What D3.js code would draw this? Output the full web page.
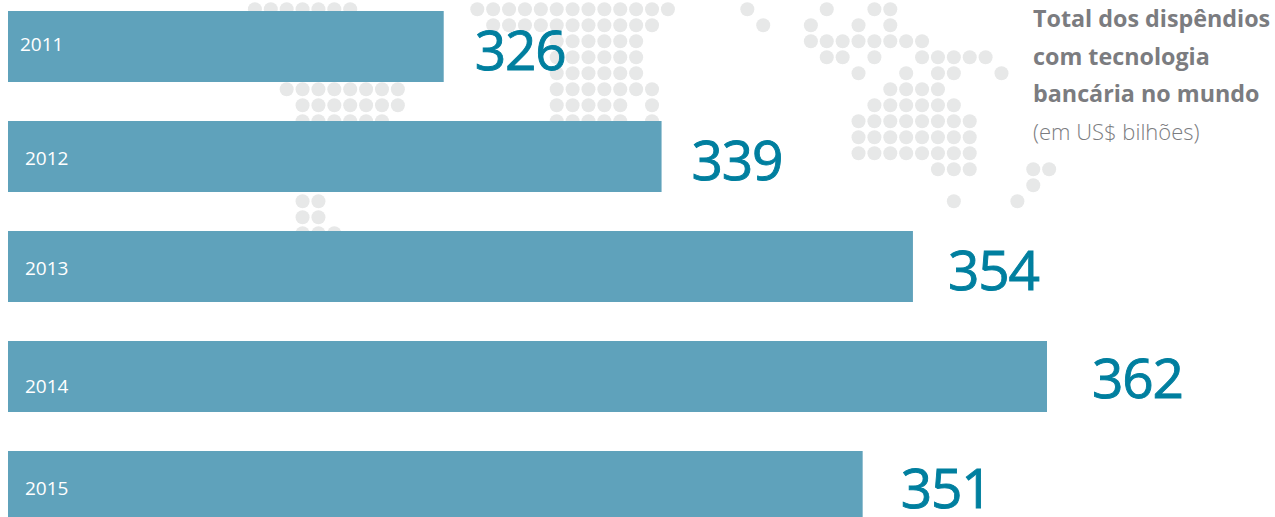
<!DOCTYPE html>
<html>
<head>
<meta charset="utf-8">
<script src="https://cdn.jsdelivr.net/npm/d3@7"></script>
<style>
  html, body { margin: 0; padding: 0; background: #fff; overflow: hidden; }
  svg { display: block; }
</style>
</head>
<body>
<script>
// Chart data
const years = ["2011", "2012", "2013", "2014", "2015"];
const spending = [326, 339, 354, 362, 351];
const titleLines = ["Total dos dispêndios", "com tecnologia", "bancária no mundo"];
const subtitle = "(em US$ bilhões)";

// Background world map, dot columns per dot row
const mapCols = [
  [0,1,2,3,4,5,6, 14,15,16,17,18,19,20,21,22,23,24,25,26, 31, 36, 39,40],
  [15,16,17,18,19,20,21,22,23,24,25, 32, 35, 38, 40],
  [19,20,21,22,23,24, 35,36,37,38,39,40,41,42],
  [19,20,21,22,23,24, 36,37, 39, 42,43,44,45,46],
  [19,20,21,22,23,24, 38, 41, 43,44, 47],
  [2,3,4,5,6,7,8,9, 19,20,21,22,23,24,25, 40,41,42,43],
  [3,4,5,6,7,8,9, 19,20,21,22,23, 25, 39,40,41,42,43,44],
  [3,4,5,6,7,8, 19,20,21,22,23, 25, 38,39,40,41,42,43,44,45],
  [38,39,40,41,42,43,44,45],
  [38,39,40,41,42,43,44,45],
  [43,44,45, 49,50],
  [49],
  [3,4, 44, 48],
  [3,4],
  [3,4,5]
];

// Set the dimensions
const width = 1275, height = 517;

// Label nudges, the source has them hand placed
const yearLabelX = [20, 25, 25, 25, 25];
const yearLabelY = [51, 165, 275, 393, 495];
const valueLabelDx = [31, 30, 35, 45, 38];
const valueLabelY = [70, 180, 290, 398, 508];

const svg = d3.select("body").append("svg")
    .attr("width", width)
    .attr("height", height);

// Set the ranges
const x = d3.scaleLinear().domain([300, 362]).range([8, 1047]);
const y = d3.scaleBand().domain(years).range([11, 522]).paddingInner(39 / 110);

const dotX = d3.scaleLinear().domain([0, 1]).range([254.9, 270.785]);
const dotY = d3.scaleLinear().domain([0, 1]).range([9.3, 25.3]);

// Map dots
const map = svg.append("g").attr("fill", "#e7e8e8");

mapCols.forEach((cols, row) => {
  map.selectAll(null).data(cols)
    .enter().append("circle")
    .attr("cx", d => dotX(d))
    .attr("cy", dotY(row))
    .attr("r", 7);
});

// Bars
svg.selectAll(".bar").data(spending)
  .enter().append("rect")
    .attr("class", "bar")
    .attr("x", x(300))
    .attr("y", (d, i) => y(years[i]))
    .attr("width", d => x(d) - x(300))
    .attr("height", y.bandwidth())
    .attr("fill", "#5fa2bb");

// Year labels
svg.selectAll(".year").data(years)
  .enter().append("text")
    .attr("class", "year")
    .attr("x", (d, i) => yearLabelX[i])
    .attr("y", (d, i) => yearLabelY[i])
    .attr("fill", "#fff")
    .style("font", "19px 'Open Sans'")
    .text(d => d);

// Value labels
svg.selectAll(".value").data(spending)
  .enter().append("text")
    .attr("class", "value")
    .attr("x", (d, i) => x(d) + valueLabelDx[i])
    .attr("y", (d, i) => valueLabelY[i])
    .attr("fill", "#007f9f")
    .attr("stroke", "#007f9f")
    .attr("stroke-width", 0.9)
    .style("font", "55px 'Open Sans'")
    .style("letter-spacing", "-1.2px")
    .text(d => d);

// Title
const title = svg.append("g").attr("fill", "#7b7c80");

title.selectAll("text").data(titleLines)
  .enter().append("text")
    .attr("x", 1033)
    .attr("y", (d, i) => 27 + i * 37.5)
    .style("font", "bold 23.3px 'Open Sans'")
    .text(d => d);

title.append("text")
    .attr("x", 1033)
    .attr("y", 140)
    .style("font", "300 22px 'Open Sans'")
    .text(subtitle);
</script>
</body>
</html>
